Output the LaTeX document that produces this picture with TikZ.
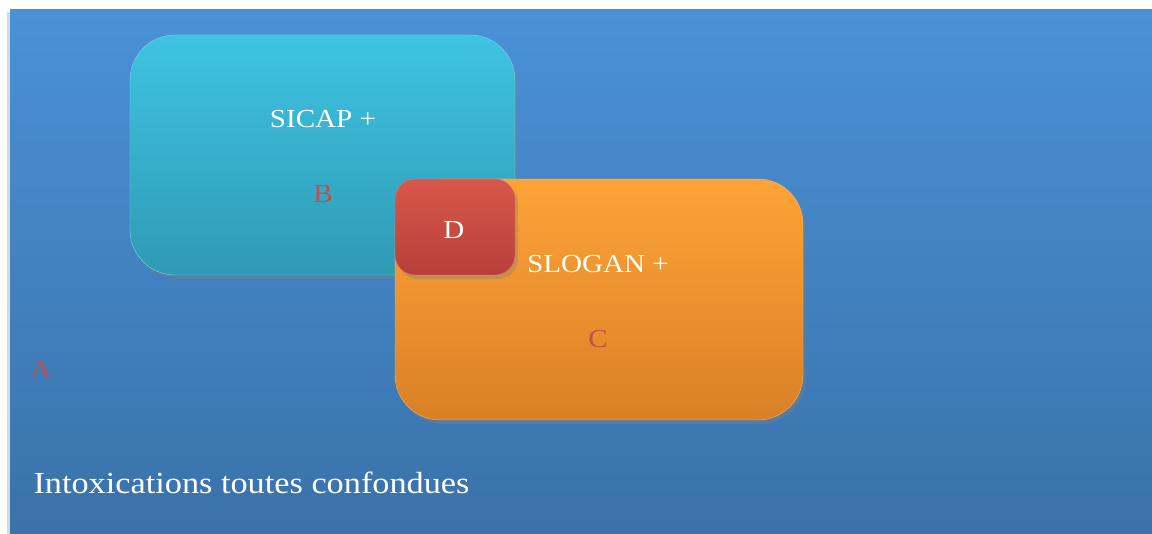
\documentclass[tikz,border=0pt]{standalone}
\usepackage{fontspec}
\setmainfont[FakeStretch=1.12]{Liberation Serif}
\usetikzlibrary{shadows}
\definecolor{bgtop}{HTML}{4A91D7}
\definecolor{bgbot}{HTML}{3A72A9}
\definecolor{cyantop}{HTML}{3EC3E2}
\definecolor{cyanbot}{HTML}{2F9AB4}
\definecolor{orgtop}{HTML}{FEA336}
\definecolor{orgbot}{HTML}{D98027}
\definecolor{redtop}{HTML}{DA564B}
\definecolor{redbot}{HTML}{B6413A}
\definecolor{lettred}{HTML}{C0504D}
\tikzset{
  panel/.style={rectangle, rounded corners=45pt, inner sep=0pt,
    drop shadow={shadow xshift=3pt, shadow yshift=-4pt, opacity=0.35}},
  label/.style={text=white, font=\fontsize{26}{30}\selectfont},
  letter/.style={text=lettred, font=\fontsize{26}{30}\selectfont}
}
\begin{document}
\begin{tikzpicture}[x=1pt, y=1pt]
     \useasboundingbox (0,0) rectangle (1152,534);
     % background
     \shade[top color=bgtop, bottom color=bgbot,
       drop shadow={shadow xshift=-3pt, shadow yshift=-2pt, opacity=0.3}]
       (10,0) rectangle (1152,524);
     % boxes
     \node[panel, top color=cyantop, bottom color=cyanbot, draw=cyantop!70!white,
       minimum width=385pt, minimum height=240pt] (sicap) at (322.5,379) {};
     \node[panel, top color=orgtop, bottom color=orgbot, draw=orgtop!80!white,
       minimum width=408pt, minimum height=241pt] (slogan) at (599,234.5) {};
     \node[panel, rounded corners=20pt, top color=redtop, bottom color=redbot,
       draw=redtop!80!white, minimum width=120pt, minimum height=96pt] (inter) at (455,307) {};
     % texts
     \node[label] (sicaplbl) at (323,415) {SICAP +};
     \node[letter] (b) at (323,340) {B};
     \node[label] (sloganlbl) at (598,270) {SLOGAN +};
     \node[letter] (c) at (598,195) {C};
     \node[label] (d) at (454,304) {D};
     \node[letter] (a) at (41,164) {A};
     \node[label, anchor=west, font=\fontsize{30.6}{36}\selectfont] (all) at (30,51) {Intoxications toutes confondues};
\end{tikzpicture}
\end{document}
